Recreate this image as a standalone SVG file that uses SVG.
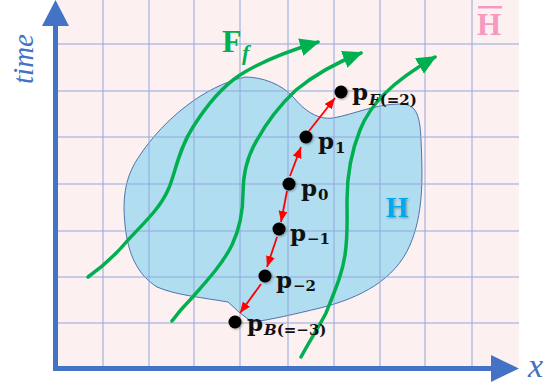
<svg xmlns="http://www.w3.org/2000/svg" width="556" height="387" viewBox="0 0 556 387">
<defs>
<style>
.grid{stroke:#8FA8DC;stroke-width:1;fill:none}
.green{stroke:#00B050;stroke-width:3.5;fill:none;stroke-linecap:round}
.red{stroke:#FF0000;stroke-width:1.8;fill:none}
.dot{fill:#000}
.pl{font-family:"DejaVu Serif",serif;font-weight:bold;fill:#111}
.p{font-size:23px}
.sub{font-size:15px}
</style>
<marker id="ga" markerUnits="userSpaceOnUse" markerWidth="22" markerHeight="20" refX="18" refY="9" orient="auto">
<path d="M0,0 L20,9 L0,18 Z" fill="#00B050"/>
</marker>
<marker id="ra" markerUnits="userSpaceOnUse" markerWidth="12" markerHeight="10" refX="11" refY="4.5" orient="auto">
<path d="M0,0 L11,4.5 L0,9 Z" fill="#FF0000"/>
</marker>
<filter id="sh" x="-50%" y="-50%" width="200%" height="200%">
<feDropShadow dx="1" dy="1" stdDeviation="1" flood-color="#000" flood-opacity="0.35"/>
</filter>
</defs>

<rect x="57" y="0" width="462" height="367" fill="#FDF0F0"/>

<g id="region-H">
<path d="M245,77 C262,77 282,84 294,98 C305,111 318,120 333,118 C355,114 375,104 400,104 C415,104 420,112 421,140 C423,180 423,215 410,245 C395,280 360,298 320,308 C295,314 270,320 252,322 L240,313 L228,302 C205,298 175,295 157,287 C138,275 128,255 125,225 C122,195 126,175 140,155 C165,118 205,86 245,77 Z" fill="#B0DDF0" stroke="#2E5597" stroke-width="0.8"/>
</g>

<g id="grid" class="grid">
<path d="M103,0V367M149,0V367M194,0V367M240,0V367M288,0V367M334,0V367M380,0V367M425,0V367M472,0V367"/>
<path d="M57,44H519M57,91H519M57,137H519M57,184H519M57,231H519M57,277H519M57,323H519"/>
</g>

<g id="axes" fill="#4472C4">
<rect x="53" y="24" width="5" height="347"/>
<polygon points="42,26 55.5,0 69,26"/>
<rect x="53" y="366" width="440" height="5"/>
<polygon points="491,355 519,368.5 491,382"/>
<text x="33" y="59" transform="rotate(-90 33 59)" text-anchor="middle" font-family="Liberation Serif,serif" font-style="italic" font-size="29">time</text>
<text x="528" y="377" font-family="Liberation Serif,serif" font-style="italic" font-size="34">x</text>
</g>

<g id="connectors">
<path class="green" marker-end="url(#ga)" d="M88,277 C105,265 118,252 128,240 C145,222 160,208 168,190 C175,175 178,150 193,127 C205,108 220,88 240,75 C260,62 285,52 318,42"/>
<path class="green" marker-end="url(#ga)" d="M172,321 C180,310 185,305 190,300 C205,283 222,265 232,245 C240,228 243,210 243,193 C243,175 248,155 257,140 C268,120 280,105 296,90 C312,77 335,63 361,53"/>
<path class="green" marker-end="url(#ga)" d="M301,357 C310,340 320,325 326,313 C335,290 342,275 345,255 C348,235 347,220 347,200 C347,175 352,150 360,130 C370,105 390,83 435,57"/>
<path class="red" marker-end="url(#ra)" d="M290,176 L301,147"/>
<path class="red" marker-end="url(#ra)" d="M309,131 L335,98"/>
<path class="red" marker-end="url(#ra)" d="M287,191 L281,222"/>
<path class="red" marker-end="url(#ra)" d="M277,237 L267,267"/>
<path class="red" marker-end="url(#ra)" d="M261,284 L240,313"/>
</g>

<g id="label-Ff" fill="#00B050" font-family="Liberation Serif,serif" font-weight="bold">
<text x="222" y="52" font-size="32">F</text>
<text x="242" y="60" font-size="22" font-style="italic">f</text>
</g>

<g id="label-Hbar" fill="#F49AC1" font-family="Liberation Serif,serif" font-weight="bold">
<rect x="478" y="6" width="24" height="2.5"/>
<text x="477" y="35" font-size="31">H</text>
</g>

<g id="label-H">
<text x="386" y="217" fill="#00A9EC" font-family="Liberation Serif,serif" font-weight="bold" font-size="29" filter="url(#sh)">H</text>
</g>

<g id="node-pF">
<circle class="dot" cx="341" cy="92" r="6.5" filter="url(#sh)"/>
<text class="pl p" x="352" y="100">p</text>
<text class="pl sub" x="369" y="105"><tspan font-style="italic">F</tspan>(=2)</text>
</g>
<g id="node-p1">
<circle class="dot" cx="306" cy="137" r="6.5" filter="url(#sh)"/>
<text class="pl p" x="318" y="149">p</text>
<text class="pl sub" x="335" y="153">1</text>
</g>
<g id="node-p0">
<circle class="dot" cx="289" cy="184" r="6.5" filter="url(#sh)"/>
<text class="pl p" x="301" y="196">p</text>
<text class="pl sub" x="318" y="200">0</text>
</g>
<g id="node-pm1">
<circle class="dot" cx="279" cy="229" r="6.5" filter="url(#sh)"/>
<text class="pl p" x="290" y="241">p</text>
<text class="pl sub" x="307" y="244">−1</text>
</g>
<g id="node-pm2">
<circle class="dot" cx="265" cy="276" r="6.5" filter="url(#sh)"/>
<text class="pl p" x="276" y="288">p</text>
<text class="pl sub" x="293" y="291">−2</text>
</g>
<g id="node-pB">
<circle class="dot" cx="235" cy="322" r="6.5" filter="url(#sh)"/>
<text class="pl p" x="247" y="331">p</text>
<text class="pl sub" x="264" y="335"><tspan font-style="italic">B</tspan>(=−3)</text>
</g>
</svg>
